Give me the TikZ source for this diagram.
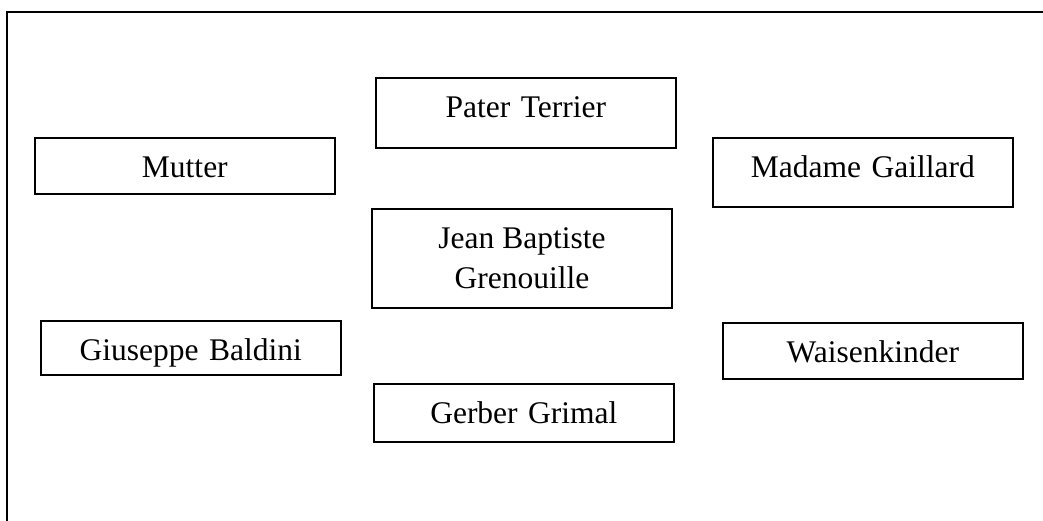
\documentclass[tikz,border=0pt]{standalone}
\usepackage{fontspec}
\setmainfont{Liberation Serif}
\begin{document}
\begin{tikzpicture}[x=1pt,y=-1pt,
  person/.style={draw=black, line width=1.7pt, rectangle, anchor=north west,
    inner xsep=0pt, inner ysep=0pt, text width=300pt, align=center,
    font=\fontsize{31.5}{40}\selectfont, text height=40pt},
  frame/.style={draw=black, line width=2pt}]
\useasboundingbox (0,0) rectangle (1043,521);
\clip (0,0) rectangle (1043,521);
\fill[white] (0,0) rectangle (1043,521);
\draw[frame] (7,540) -- (7,12) -- (1060,12);
\node[person, text depth=30pt] (pater) at (375,77) {Pater Terrier};
\node[person, text depth=16pt] (mutter) at (34,137) {Mutter};
\node[person, text depth=29pt] (madame) at (712,137) {Madame Gaillard};
\node[draw=black, line width=1.7pt, rectangle, anchor=center, inner sep=0pt,
  minimum width=300pt, minimum height=99pt, align=center,
  font=\fontsize{31.5}{40}\selectfont] (jean) at (522,258.5) {Jean Baptiste\\Grenouille};
\node[person, text depth=14pt] (giuseppe) at (40,320) {Giuseppe Baldini};
\node[person, text depth=16pt] (waisen) at (722,322) {Waisenkinder};
\node[person, text depth=18pt] (gerber) at (373,383) {Gerber Grimal};
\end{tikzpicture}
\end{document}
